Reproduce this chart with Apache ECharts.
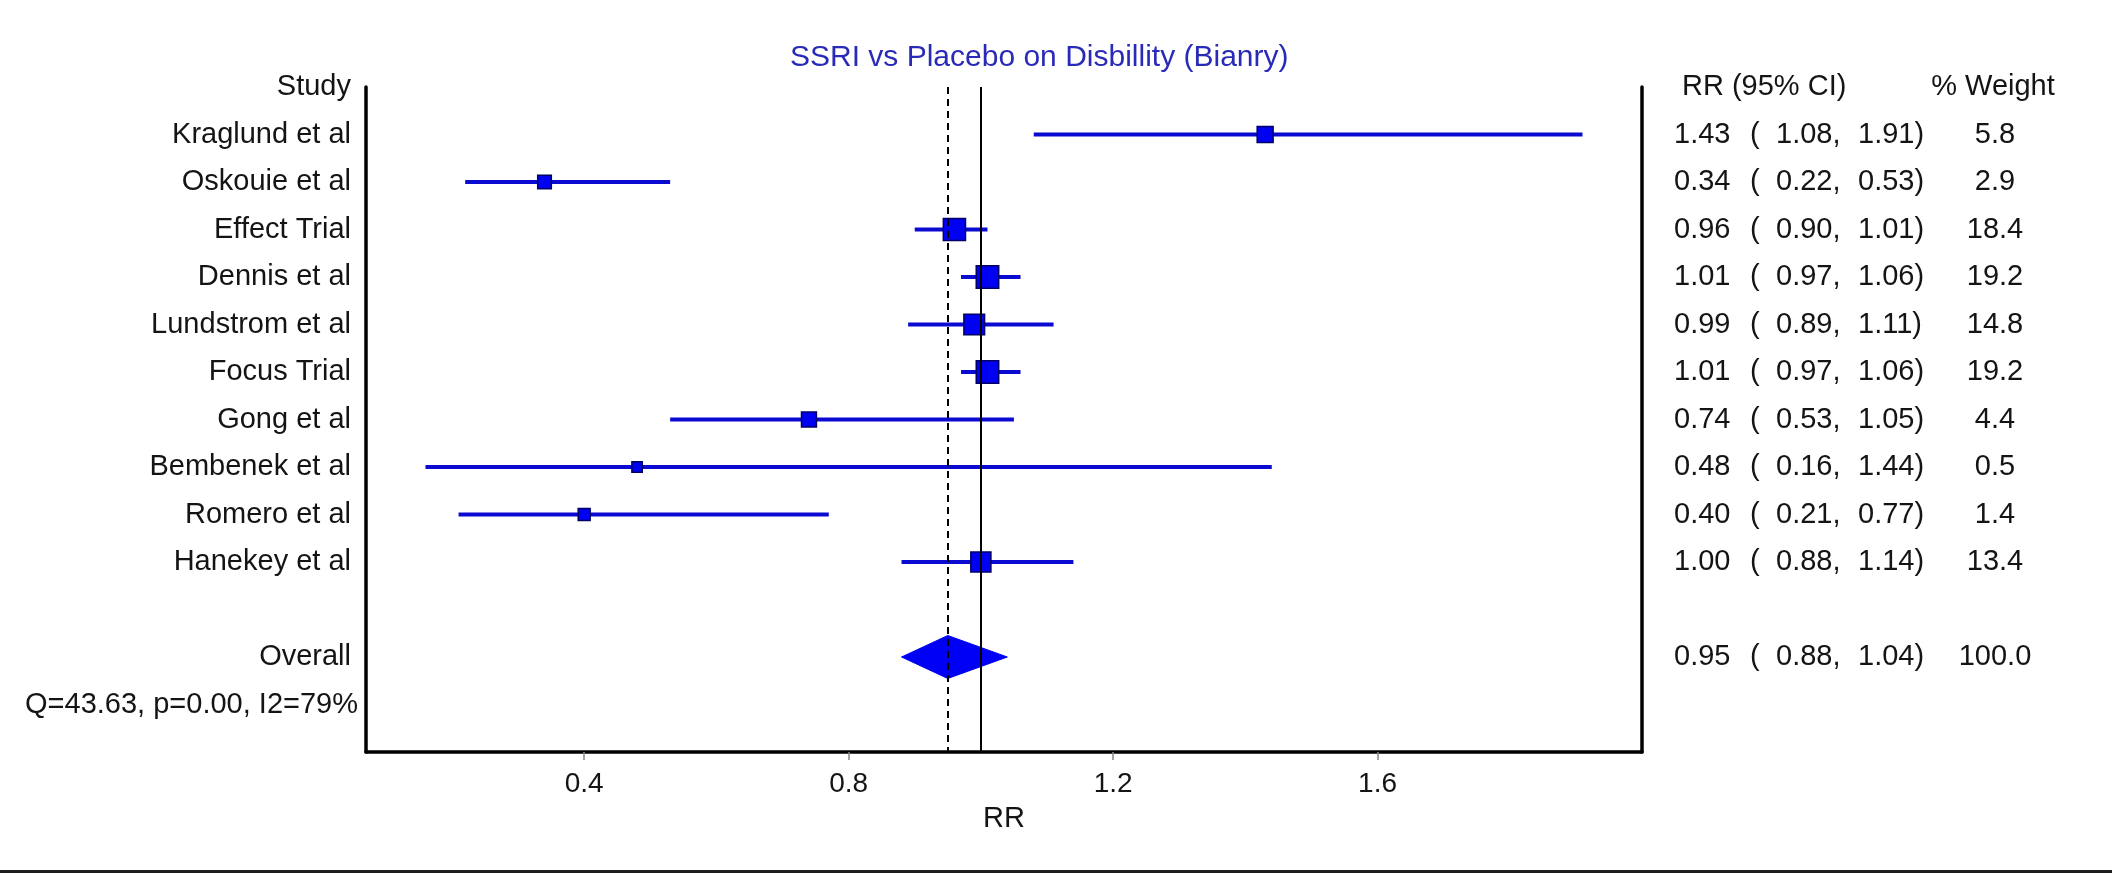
<!DOCTYPE html>
<html>
<head>
<meta charset="utf-8">
<script src="https://cdn.jsdelivr.net/npm/echarts@6/dist/echarts.min.js"></script>
<style>
  html, body { margin: 0; padding: 0; background: #ffffff; }
  #chart { width: 2112px; height: 870px; border-bottom: 3px solid #1e1e1e; }
</style>
</head>
<body>
<div id="chart"></div>
<script>
// ---- data ----
const studies = ['Kraglund et al', 'Oskouie et al', 'Effect Trial', 'Dennis et al', 'Lundstrom et al',
                 'Focus Trial', 'Gong et al', 'Bembenek et al', 'Romero et al', 'Hanekey et al'];
const rr     = [1.43, 0.34, 0.96, 1.01, 0.99, 1.01, 0.74, 0.48, 0.40, 1.00];
const lower  = [1.08, 0.22, 0.90, 0.97, 0.89, 0.97, 0.53, 0.16, 0.21, 0.88];
const upper  = [1.91, 0.53, 1.01, 1.06, 1.11, 1.06, 1.05, 1.44, 0.77, 1.14];
const weight = [5.8, 2.9, 18.4, 19.2, 14.8, 19.2, 4.4, 0.5, 1.4, 13.4];
const overallLabel = 'Overall';
const overallRR = 0.95;
const overallLower = 0.88;
const overallUpper = 1.04;
const overallWeight = 100.0;
const heterogeneity = 'Q=43.63, p=0.00, I2=79%';
const xTicks = [0.4, 0.8, 1.2, 1.6];
const nullValue = 1.0;
const titleText = 'SSRI vs Placebo on Disbillity (Bianry)';
const leftHeader = 'Study';
const ciHeader = 'RR (95% CI)';
const weightHeader = '% Weight';
const xName = 'RR';

// ---- row layout (row indices) ----
const headerRow = -1;
const overallRow = studies.length + 1;
const hetRow = studies.length + 2;
const lastRow = studies.length + 3;

const FONT = "'Liberation Sans', Arial, sans-serif";
const TXT = '#141414';
const FS = 29;

const leftMap = {};
leftMap[headerRow] = leftHeader;
studies.forEach((s, i) => { leftMap[i] = s; });
leftMap[overallRow] = overallLabel;
leftMap[hetRow] = heterogeneity;

const f2 = v => v.toFixed(2);
const rightMap = {};
rightMap[headerRow] = '{h1|' + ciHeader + '}{h2|' + weightHeader + '}';
studies.forEach((s, i) => {
  rightMap[i] = '{a|' + f2(rr[i]) + '}{b|(}{c|' + f2(lower[i]) + ',}{d|' + f2(upper[i]) + ')}{e|' + weight[i].toFixed(1) + '}';
});
rightMap[overallRow] = '{a|' + f2(overallRR) + '}{b|(}{c|' + f2(overallLower) + ',}{d|' + f2(overallUpper) + ')}{e|' + overallWeight.toFixed(1) + '}';

const leftRows = Object.keys(leftMap).map(Number);
const rightRows = Object.keys(rightMap).map(Number);

const ciData = studies.map((s, i) => [lower[i], upper[i], i]);
const pointData = studies.map((s, i) => [rr[i], i, weight[i]]);
const diamondData = [[overallLower, overallRR, overallUpper, overallRow]];

const markerSize = w => 8 + 3.3 * Math.sqrt(w);

const rt = (extra) => Object.assign({ fontFamily: FONT, fontSize: FS, color: TXT }, extra);

const option = {
  backgroundColor: '#ffffff',
  animation: false,
  title: {
    text: titleText,
    left: 785,
    top: 38,
    textStyle: { fontFamily: FONT, fontSize: 30, fontWeight: 'normal', color: '#2a2ab8' }
  },
  grid: { left: 366, right: 470, top: 87, bottom: 118, show: false },
  xAxis: {
    type: 'value',
    min: 0.07,
    max: 2.0,
    name: xName,
    nameLocation: 'middle',
    nameGap: 52,
    nameTextStyle: { fontFamily: FONT, fontSize: FS, color: TXT },
    axisLine: { show: true, onZero: false, lineStyle: { color: '#000', width: 3.5 } },
    axisTick: { show: true, customValues: xTicks, length: 8, inside: false, lineStyle: { color: '#888', width: 1.5 } },
    axisLabel: { customValues: xTicks, formatter: v => v.toFixed(1), margin: 18,
                 fontFamily: FONT, fontSize: 28, color: TXT },
    splitLine: { show: false }
  },
  yAxis: [
    {
      type: 'value', inverse: true, min: headerRow, max: lastRow, position: 'left',
      axisLine: { show: true, onZero: false, lineStyle: { color: '#000', width: 3.5 } },
      axisTick: { show: false },
      splitLine: { show: false },
      axisLabel: {
        customValues: leftRows,
        margin: 8,
        formatter: v => (v === hetRow ? '{q|' : '{n|') + (leftMap[v] || '') + '}',
        rich: { n: rt({ padding: [0, 7, 0, 0] }), q: rt({}) },
        fontFamily: FONT, fontSize: FS, color: TXT
      }
    },
    {
      type: 'value', inverse: true, min: headerRow, max: lastRow, position: 'right',
      axisLine: { show: true, onZero: false, lineStyle: { color: '#000', width: 3.5 } },
      axisTick: { show: false },
      splitLine: { show: false },
      axisLabel: {
        customValues: rightRows,
        margin: 32,
        align: 'left',
        formatter: v => rightMap[v] || '',
        rich: {
          a: rt({ width: 76, align: 'left' }),
          b: rt({ width: 26, align: 'left' }),
          c: rt({ width: 82, align: 'left' }),
          d: rt({ width: 80, align: 'left' }),
          e: rt({ width: 114, align: 'center' }),
          h1: rt({ width: 248, align: 'left', padding: [0, 0, 0, 8] }),
          h2: rt({ width: 126, align: 'center' })
        },
        fontFamily: FONT, fontSize: FS, color: TXT
      }
    }
  ],
  series: [
    {
      name: 'ci',
      type: 'custom',
      yAxisIndex: 0,
      data: ciData,
      encode: { x: [0, 1], y: 2 },
      renderItem: (params, api) => {
        const s = api.coord([api.value(0), api.value(2)]);
        const e = api.coord([api.value(1), api.value(2)]);
        return {
          type: 'line',
          shape: { x1: s[0], y1: s[1], x2: e[0], y2: e[1] },
          style: { stroke: '#0a0ad0', lineWidth: 4 }
        };
      },
      z: 2
    },
    {
      name: 'rr',
      type: 'scatter',
      yAxisIndex: 0,
      data: pointData,
      symbol: 'rect',
      symbolSize: v => markerSize(v[2]),
      itemStyle: { color: '#0000f2', borderColor: '#000066', borderWidth: 1.5, opacity: 1 },
      z: 3
    },
    {
      name: 'overall',
      type: 'custom',
      yAxisIndex: 0,
      data: diamondData,
      encode: { x: [0, 2], y: 3 },
      renderItem: (params, api) => {
        const l = api.coord([api.value(0), api.value(3)]);
        const m = api.coord([api.value(1), api.value(3)]);
        const u = api.coord([api.value(2), api.value(3)]);
        const h = 21.5;
        return {
          type: 'polygon',
          shape: { points: [[l[0], l[1]], [m[0], m[1] - h], [u[0], u[1]], [m[0], m[1] + h]] },
          style: { fill: '#0000f5', stroke: '#0000f5', lineWidth: 1 }
        };
      },
      z: 3
    },
    {
      name: 'refs',
      type: 'line',
      yAxisIndex: 0,
      data: [],
      z: 5,
      markLine: {
        silent: true,
        symbol: 'none',
        label: { show: false },
        animation: false,
        data: [
          { xAxis: nullValue, lineStyle: { type: 'solid', color: '#000', width: 2 } },
          { xAxis: overallRR, lineStyle: { type: [7, 5], color: '#000', width: 2 } }
        ]
      }
    }
  ]
};

const chart = echarts.init(document.getElementById('chart'), null, { renderer: 'canvas' });
chart.setOption(option);
</script>
</body>
</html>
